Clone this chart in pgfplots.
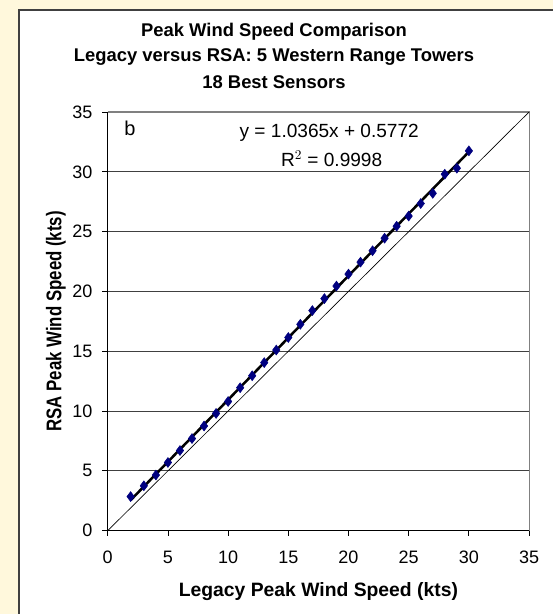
\documentclass[border=0pt]{standalone}
\usepackage{fontspec}
\setmainfont{Liberation Sans}
\usepackage{graphicx}
\usepackage{pgfplots}
\pgfplotsset{compat=1.18}
\definecolor{bgyellow}{RGB}{255,248,220}
\definecolor{navyblue}{RGB}{0,0,128}
\definecolor{framegray}{RGB}{64,64,64}
\begin{document}
\begin{tikzpicture}[x=1pt,y=1pt]
\useasboundingbox (0,0) rectangle (414.75,460.5);
\fill[bgyellow] (0,0) rectangle (414.75,460.5);
\fill[white] (14.25,0) rectangle (414.75,453);
\draw[framegray,line width=1.2pt] (14.25,0) -- (14.25,453) -- (414.75,453);
\node[font=\bfseries\fontsize{13.8}{15}\selectfont,anchor=center] at (205.5,436.5) {Peak Wind Speed Comparison};
\node[font=\bfseries\fontsize{13.8}{15}\selectfont,anchor=center] at (205.5,417.75) {Legacy versus RSA: 5 Western Range Towers};
\node[font=\bfseries\fontsize{13.8}{15}\selectfont,anchor=center] at (205.5,399) {18 Best Sensors};
\begin{axis}[
  at={(80.8pt,62.5pt)}, anchor=origin,
  scale only axis, width=316pt, height=314pt,
  xmin=0, xmax=35, ymin=0, ymax=35,
  xtick={0,5,10,15,20,25,30,35}, ytick={0,5,10,15,20,25,30,35},
  xticklabels={0,5,10,15,20,25,30,35},
  yticklabels={0,5,10,15,20,25,30,35},
  tick align=outside, major tick length=4pt,
  ymajorgrids, grid style={draw=black!75, line width=0.6pt},
  axis line style={black}, 
  tick style={black, line width=0.6pt},
  axis x line*=bottom, axis y line*=left,
  xticklabel style={font=\fontsize{13.5}{15}\selectfont, yshift=-8pt},
  yticklabel style={font=\fontsize{13.5}{15}\selectfont, xshift=-4pt},
  xlabel={\bfseries Legacy Peak Wind Speed (kts)},
  ylabel={\scalebox{0.87}[1.1]{\bfseries RSA Peak Wind Speed (kts)}},
  label style={font=\fontsize{14.5}{16}\selectfont},
  xlabel style={yshift=-7pt},
  ylabel style={yshift=-2pt},
  clip=false,
]
\draw[black!50, line width=0.8pt] (axis cs:0,35) -- (axis cs:35,35) -- (axis cs:35,0);
\addplot[black, line width=0.5pt] coordinates {(0,0) (35,35)};
\addplot[only marks, mark=diamond*, mark size=3.7pt, navyblue, mark options={fill=navyblue,draw=navyblue}] coordinates {
(1.9,2.85) (3,3.75) (4,4.65) (5,5.7) (6,6.7) (7,7.7) (8,8.75) (9,9.8) (10,10.8)
(11,11.95) (12,12.95) (13,14.05) (14,15.1) (15,16.15) (16,17.25) (17,18.4) (18,19.4)
(19,20.45) (20,21.45) (21,22.45) (22,23.4) (23,24.45) (24,25.45) (25,26.3) (26,27.35)
(27,28.2) (28,29.8) (29,30.3) (30,31.75)};
\addplot[black, line width=1.9pt] coordinates {(1.9,2.547) (30,31.672)};
\node[anchor=west, font=\fontsize{15}{17}\selectfont] at (axis cs:1.0,33.67) {b};
\node[font=\fontsize{14.3}{16}\selectfont] at (axis cs:18.4,33.3) {y = 1.0365x + 0.5772};
\node[font=\fontsize{14.3}{16}\selectfont] at (axis cs:18.6,31.1) {R$^2$ = 0.9998};
\end{axis}
\end{tikzpicture}
\end{document}
